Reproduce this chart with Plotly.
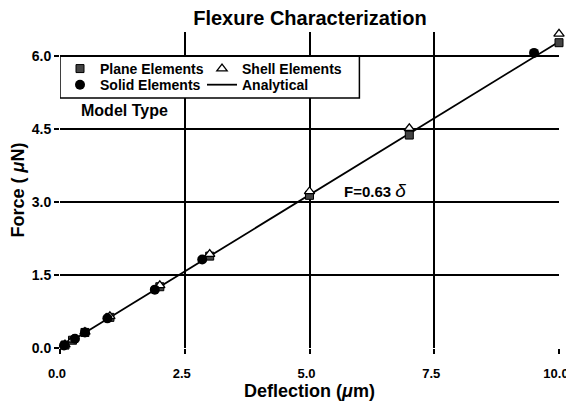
import plotly.graph_objects as go

plane_x = [0.1, 0.25, 0.5, 1.0, 2.0, 3.0, 5.0, 7.0, 10.0]
plane_y = [0.06, 0.16, 0.32, 0.63, 1.26, 1.89, 3.14, 4.38, 6.28]
shell_x = [0.1, 0.25, 0.5, 1.0, 2.0, 3.0, 5.0, 7.0, 10.0]
shell_y = [0.07, 0.17, 0.33, 0.65, 1.29, 1.93, 3.22, 4.52, 6.46]
solid_x = [0.08, 0.3, 0.5, 0.95, 1.9, 2.85, 9.5]
solid_y = [0.05, 0.19, 0.32, 0.61, 1.2, 1.82, 6.07]
analytical_x = [0.0, 10.0]
analytical_y = [0.0, 6.3]
x_ticks = [0.0, 2.5, 5.0, 7.5, 10.0]
y_ticks = [0.0, 1.5, 3.0, 4.5, 6.0]

FONT = "Liberation Sans"
X_RANGE = [0, 10]
Y_RANGE = [0, 6.5]

fig = go.Figure()
fig.add_trace(go.Scatter(x=analytical_x, y=analytical_y, mode="lines", name="Analytical",
                         line=dict(color="black", width=1.8), legend="legend2", legendrank=2))
fig.add_trace(go.Scatter(x=plane_x, y=plane_y, mode="markers", name="Plane Elements",
                         marker=dict(symbol="square", size=8, color="#444444",
                                     line=dict(color="black", width=1)),
                         legend="legend", legendrank=1, cliponaxis=False))
fig.add_trace(go.Scatter(x=shell_x, y=shell_y, mode="markers", name="Shell Elements",
                         marker=dict(symbol="triangle-up", size=9, color="white",
                                     line=dict(color="black", width=1.3)),
                         legend="legend", legendrank=2, cliponaxis=False))
fig.add_trace(go.Scatter(x=solid_x, y=solid_y, mode="markers", name="Solid Elements",
                         marker=dict(symbol="circle", size=10, color="black"),
                         legend="legend2", legendrank=1, cliponaxis=False))

# legend frame (white box that hides the grid underneath)
fig.add_shape(type="rect", xref="x", yref="y", x0=0, x1=6.0, y0=5.14, y1=6.0,
              fillcolor="white", line=dict(color="black", width=1.5), layer="above")

fig.add_annotation(x=0.38, y=4.88, text="Model Type", showarrow=False, xanchor="left",
                   font=dict(family=FONT, size=16, color="black", weight="bold"))
fig.add_annotation(x=5.66, y=3.25, text="<b>F=0.63 </b><span style='font-size:19px'><i>δ</i></span>",
                   showarrow=False, xanchor="left",
                   font=dict(family=FONT, size=15, color="black"))

axis_common = dict(showgrid=True, gridcolor="black", gridwidth=1.5, zeroline=False,
                   ticks="outside", ticklen=5, tickwidth=1.5, tickcolor="black",
                   showline=False, tickformat=".1f", automargin=False)

fig.update_xaxes(range=X_RANGE, tickvals=x_ticks, ticklabelstandoff=8, ticklabelshift=-3,
                 **axis_common,
                 tickfont=dict(family=FONT, size=13, color="black", weight="bold"),
                 title=dict(text="Deflection (<i>μ</i>m)", standoff=0,
                            font=dict(family=FONT, size=18, color="black", weight="bold")))
fig.update_yaxes(range=Y_RANGE, tickvals=y_ticks, **axis_common,
                 tickfont=dict(family=FONT, size=14, color="black", weight="bold"),
                 title=dict(text="Force ( <i>μ</i>N)", standoff=4,
                            font=dict(family=FONT, size=18, color="black", weight="bold")))

legend_common = dict(orientation="h", x=0.0, xanchor="left", yanchor="middle",
                     bgcolor="rgba(0,0,0,0)", borderwidth=0, entrywidth=97,
                     traceorder="normal",
                     font=dict(family=FONT, size=14, color="black", weight="bold"))

fig.update_layout(
    width=574, height=401,
    margin=dict(l=52, r=23, t=24, b=61),
    paper_bgcolor="white", plot_bgcolor="white",
    title=dict(text="Flexure Characterization", x=0.526, xanchor="center", y=0.975, yanchor="middle",
               font=dict(family=FONT, size=20, color="black", weight="bold")),
    legend=dict(y=0.883, **legend_common),
    legend2=dict(y=0.832, **legend_common),
    showlegend=True,
)

fig.write_html("out.html")
